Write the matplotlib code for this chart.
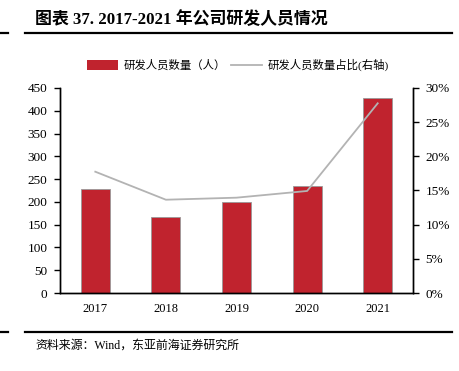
import matplotlib
matplotlib.use("Agg")
import matplotlib.pyplot as plt
from matplotlib.lines import Line2D
from matplotlib.ticker import PercentFormatter, FixedLocator
import numpy as np

years = ["2017", "2018", "2019", "2020", "2021"]
staff = [229, 166, 199, 234, 427]
ratio = [17.75, 13.65, 13.95, 14.93, 27.76]
left_ticks = [0, 50, 100, 150, 200, 250, 300, 350, 400, 450]
right_ticks = [0, 5, 10, 15, 20, 25, 30]
title = "图表 37. 2017-2021 年公司研发人员情况"
source = "资料来源：Wind，东亚前海证券研究所"
label_bar = "研发人员数量（人）"
label_line = "研发人员数量占比(右轴)"

FAM = ["Liberation Serif", "Noto Sans CJK SC"]
plt.rcParams["font.family"] = FAM

W, H = 459, 371
fig = plt.figure(figsize=(W / 100, H / 100), dpi=100)
ax = fig.add_axes([60 / W, (H - 293) / H, (413 - 60) / W, (293 - 88) / H])
x = np.arange(len(years))
ax.bar(x, staff, width=0.41, color="#C0232E", edgecolor="#999999", linewidth=0.6, zorder=2)
ax.set_xlim(-0.5, len(years) - 0.5)
ax.set_ylim(0, 450)
ax.yaxis.set_major_locator(FixedLocator(left_ticks))
ax.set_xticks(x)
ax.set_xticklabels(years)
ax.tick_params(axis="x", length=0, pad=7, labelsize=9)
ax.tick_params(axis="y", direction="out", length=4, width=1, labelsize=9.5, pad=5)
ax.spines["top"].set_visible(False)
for s in ["left", "right", "bottom"]:
    ax.spines[s].set_linewidth(1)
    ax.spines[s].set_color("black")

ax2 = ax.twinx()
ax2.plot(x, ratio, color="#B3B3B3", linewidth=1.3, zorder=3)
ax2.set_ylim(0, 30)
ax2.yaxis.set_major_locator(FixedLocator(right_ticks))
ax2.yaxis.set_major_formatter(PercentFormatter(decimals=0))
ax2.tick_params(axis="y", direction="out", length=4, width=1, labelsize=9.5, pad=5)
ax2.spines["top"].set_visible(False)
for s in ["left", "right", "bottom"]:
    ax2.spines[s].set_linewidth(1)

# legend
handles = [plt.Rectangle((0, 0), 1, 1, facecolor="#C0232E", edgecolor="none"),
           Line2D([0], [0], color="#B3B3B3", linewidth=1.3)]
fig.legend(handles, [label_bar, label_line], loc="center", bbox_to_anchor=(238 / W, 1 - 65 / H),
           ncol=2, frameon=False, handlelength=2.7, handleheight=0.9,
           columnspacing=0.4, handletextpad=0.5,
           prop={"family": FAM, "size": 8.2})

# title & rules
fig.text(35 / W, 1 - 20 / H, title, fontsize=12.2, fontweight="bold", va="center", ha="left",
         family=FAM)
for yy in (33, 332):
    fig.add_artist(Line2D([25 / W, 452 / W], [1 - yy / H, 1 - yy / H], color="black", linewidth=1.6))
    fig.add_artist(Line2D([0, 8 / W], [1 - yy / H, 1 - yy / H], color="black", linewidth=1.6))
fig.text(35 / W, 1 - 346 / H, source, fontsize=8.6, va="center", ha="left", family=FAM)

fig.savefig("out.png", dpi=100)
